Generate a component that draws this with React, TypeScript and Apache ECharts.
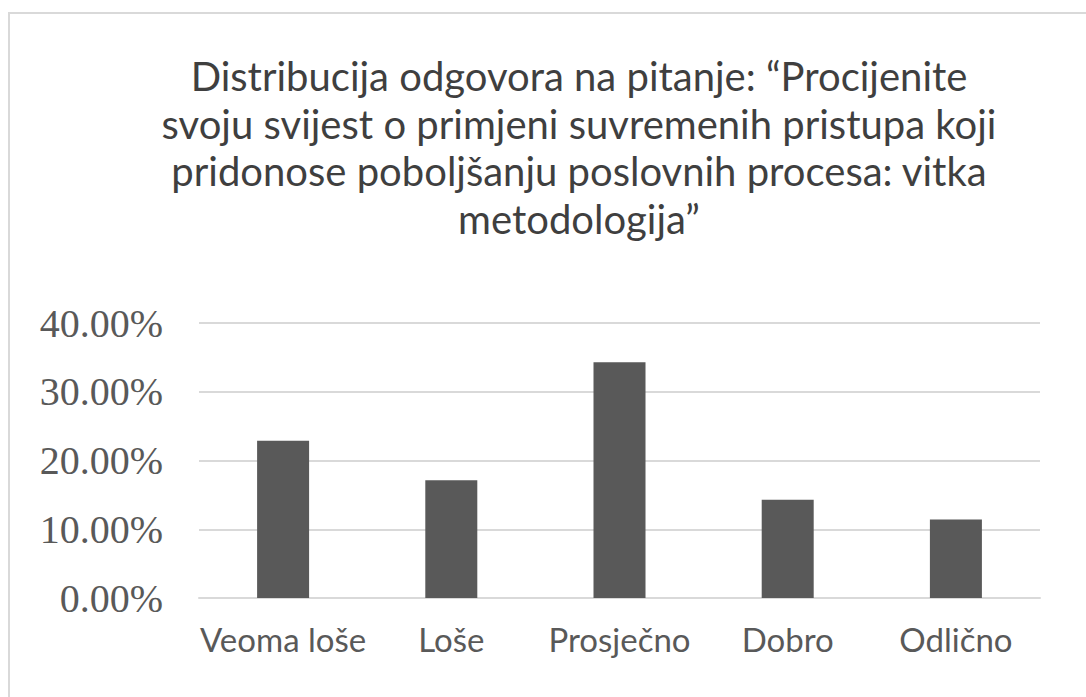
import React, { useEffect, useRef } from "react";
import * as echarts from "echarts";

const titleLines = [
  "Distribucija odgovora na pitanje: “Procijenite",
  "svoju svijest o primjeni suvremenih pristupa koji",
  "pridonose poboljšanju poslovnih procesa: vitka",
  "metodologija”",
];
const categories = ["Veoma loše", "Loše", "Prosječno", "Dobro", "Odlično"];
const values = [22.86, 17.14, 34.29, 14.29, 11.43];
const yTicks = [0, 10, 20, 30, 40];

export default function App() {
  const ref = useRef<HTMLDivElement>(null);
  useEffect(() => {
    if (!ref.current) return;
    const chart = echarts.init(ref.current, null, { renderer: "svg" });
    const titleGraphics = titleLines.map((t, i) => ({
      type: "text",
      x: 579,
      y: 76 + i * 47.5,
      style: {
        text: t,
        fill: "#3f3f3f",
        font: '40px Lato, "Open Sans", sans-serif',
        textAlign: "center",
        textVerticalAlign: "middle",
      },
    }));
    chart.setOption({
      animation: false,
      backgroundColor: "#ffffff",
      graphic: [
        {
          type: "rect",
          shape: { x: 9, y: 13, width: 1100, height: 720 },
          style: { fill: "none", stroke: "#d9d9d9", lineWidth: 2 },
        },
        ...titleGraphics,
      ],
      grid: { left: 199, right: 46, top: 323, bottom: 99 },
      xAxis: {
        type: "category",
        data: categories,
        axisLine: { lineStyle: { color: "#d9d9d9", width: 2 } },
        axisTick: { show: false },
        axisLabel: {
          interval: 0,
          color: "#595959",
          fontFamily: 'Lato, "Open Sans", sans-serif',
          fontSize: 33,
          margin: 24,
        },
      },
      yAxis: {
        type: "value",
        min: 0,
        max: 40,
        interval: 10,
        axisLine: { show: false },
        axisTick: { show: false },
        splitLine: { lineStyle: { color: "#d9d9d9", width: 2 } },
        axisLabel: {
          color: "#595959",
          fontFamily: '"Liberation Serif", "Times New Roman", serif',
          fontSize: 40,
          margin: 36,
          formatter: (v: number) => (yTicks.includes(v) ? v.toFixed(2) + "%" : ""),
        },
      },
      series: [
        {
          type: "bar",
          data: values,
          barWidth: 52,
          itemStyle: { color: "#595959" },
        },
      ],
    });
    return () => chart.dispose();
  }, []);
  return (
    <div
      ref={ref}
      style={{ position: "fixed", left: 0, top: 0, width: 1086, height: 697 }}
    />
  );
}
